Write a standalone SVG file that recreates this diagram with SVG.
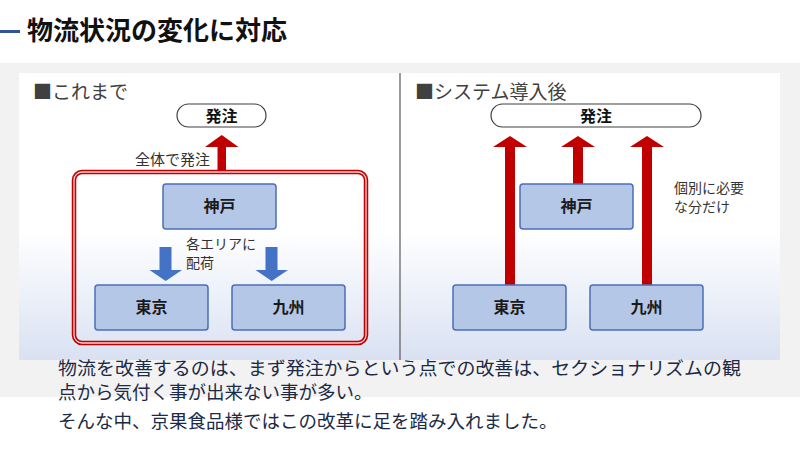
<svg xmlns="http://www.w3.org/2000/svg" width="800" height="450" viewBox="0 0 800 450">
<defs>
<linearGradient id="panelGrad" x1="0" y1="0" x2="0" y2="1">
<stop offset="0" stop-color="#ffffff"/>
<stop offset="0.55" stop-color="#ffffff"/>
<stop offset="1" stop-color="#d9e1f2"/>
</linearGradient>
<style>
text{font-family:"Noto Sans CJK JP","Noto Sans",sans-serif;}
.title{font-size:26px;font-weight:bold;fill:#111111;}
.head{font-size:19px;fill:#404040;}
.pill{fill:#ffffff;stroke:#404040;stroke-width:1.2;}
.pilltxt{font-size:16px;font-weight:bold;fill:#111111;text-anchor:middle;}
.node{fill:#b4c7e7;stroke:#4a6fb8;stroke-width:1.5;}
.nodetxt{font-size:16px;font-weight:bold;fill:#1a1a1a;text-anchor:middle;}
.lbl{font-size:14px;fill:#333333;}
.red{fill:#c00000;}
.blue{fill:#4472c4;}
.body{font-size:18.5px;fill:#1c2a48;}
</style>
</defs>
<rect x="0" y="0" width="800" height="450" fill="#ffffff"/>
<rect x="0" y="63" width="800" height="334" fill="#f2f2f2"/>
<rect x="19" y="73" width="761" height="287" fill="url(#panelGrad)"/>
<line x1="400" y1="73" x2="400" y2="360" stroke="#595959" stroke-width="1.2"/>

<g id="title">
<rect x="0" y="30" width="20" height="3" fill="#2f5597"/>
<text class="title" x="27" y="40">物流状況の変化に対応</text>
</g>

<g id="left-header"><text class="head" x="33" y="99">■これまで</text></g>
<g id="right-header"><text class="head" x="415" y="99">■システム導入後</text></g>

<g id="connectors">
<path class="red" d="M217.5,171 V147 H205 L221.7,135 L238.5,147 H226 V171 Z"/>
<path class="blue" d="M159.5,247 V270 H149.5 L165.7,281 L182,270 H171.5 V247 Z"/>
<path class="blue" d="M265.5,247 V270 H255.5 L271.7,281 L288,270 H277.5 V247 Z"/>
<path class="red" d="M505,285 V147 H493 L510,136 L527,147 H515 V285 Z"/>
<path class="red" d="M573,184 V147 H561 L578,136 L595,147 H583 V184 Z"/>
<path class="red" d="M642,285 V147 H630 L647,136 L664,147 H652 V285 Z"/>
</g>

<g id="left-order">
<rect class="pill" x="177" y="104" width="89" height="23" rx="11.5"/>
<text class="pilltxt" x="221.5" y="122">発注</text>
</g>
<g id="left-label-all"><text class="lbl" x="135" y="165" style="font-size:15px">全体で発注</text></g>

<g id="left-group">
<rect x="74" y="172" width="292" height="171" rx="8" fill="none" stroke="#c00000" stroke-width="4.5"/>
<rect x="74" y="172" width="292" height="171" rx="8" fill="none" stroke="#f6d0d0" stroke-width="1.3"/>
</g>

<g id="left-kobe">
<rect class="node" x="163" y="184" width="113" height="45" rx="3"/>
<text class="nodetxt" x="219.5" y="212">神戸</text>
</g>
<g id="left-label-dist">
<text class="lbl" x="186" y="249">各エリアに<tspan x="186" dy="19">配荷</tspan></text>
</g>
<g id="left-tokyo">
<rect class="node" x="95" y="285" width="113" height="45" rx="3"/>
<text class="nodetxt" x="151.5" y="313">東京</text>
</g>
<g id="left-kyushu">
<rect class="node" x="232" y="285" width="113" height="45" rx="3"/>
<text class="nodetxt" x="288.5" y="313">九州</text>
</g>

<g id="right-order">
<rect class="pill" x="491" y="104" width="210" height="23" rx="11.5"/>
<text class="pilltxt" x="596" y="122">発注</text>
</g>
<g id="right-kobe">
<rect class="node" x="520" y="184" width="113" height="45" rx="3"/>
<text class="nodetxt" x="576.5" y="212">神戸</text>
</g>
<g id="right-tokyo">
<rect class="node" x="453" y="285" width="113" height="45" rx="3"/>
<text class="nodetxt" x="509.5" y="313">東京</text>
</g>
<g id="right-kyushu">
<rect class="node" x="590" y="285" width="113" height="45" rx="3"/>
<text class="nodetxt" x="646.5" y="313">九州</text>
</g>
<g id="right-label">
<text class="lbl" x="674" y="193">個別に必要<tspan x="674" dy="19">な分だけ</tspan></text>
</g>

<g id="body-text">
<text class="body" x="58" y="375" textLength="683" lengthAdjust="spacingAndGlyphs">物流を改善するのは、まず発注からという点での改善は、セクショナリズムの観</text>
<text class="body" x="58" y="399">点から気付く事が出来ない事が多い。</text>
<text class="body" x="58" y="428">そんな中、京果食品様ではこの改革に足を踏み入れました。</text>
</g>
</svg>
